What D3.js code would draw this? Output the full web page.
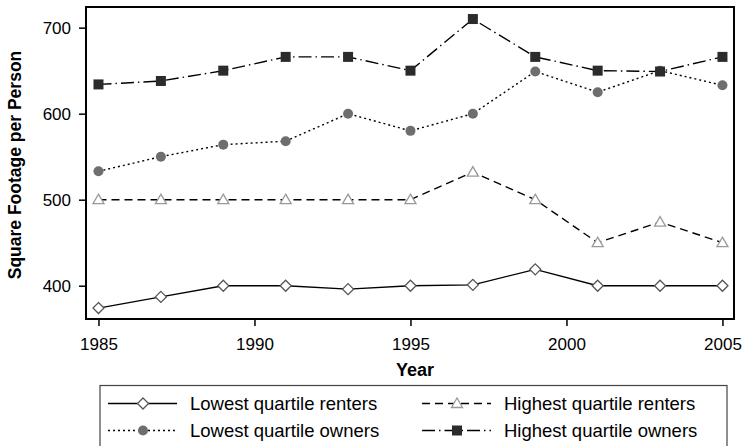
<!DOCTYPE html>
<html>
<head>
<meta charset="utf-8">
<script src="https://cdn.jsdelivr.net/npm/d3@7"></script>
<style>
  body { margin: 0; background: #fff; }
  svg { display: block; font-family: "Liberation Sans", Arial, Helvetica, sans-serif; }
</style>
</head>
<body>
<script>
// data
const years = [1985, 1987, 1989, 1991, 1993, 1995, 1997, 1999, 2001, 2003, 2005]
const lowRenters  = [374, 387, 400, 400, 396, 400, 401, 419, 400, 400, 400]
const highRenters = [500, 500, 500, 500, 500, 500, 532, 500, 450, 474, 450]
const lowOwners   = [533, 550, 564, 568, 600, 580, 600, 649, 625, 650, 633]
const highOwners  = [634, 638, 650, 666, 666, 650, 710, 666, 650, 649, 666]
const xTicks = [1985, 1990, 1995, 2000, 2005]
const yTicks = [400, 500, 600, 700]
const seriesNames = ["Lowest quartile renters", "Highest quartile renters", "Lowest quartile owners", "Highest quartile owners"]

const width = 744, height = 446
const margin = {top: 7, right: 10, bottom: 127, left: 86}

const x = d3.scaleLinear().domain([1984.6, 2005.37]).range([margin.left, width - margin.right])
const y = d3.scaleLinear().domain([361.3, 724]).range([height - margin.bottom, margin.top])

// line + marker styles per series
const styles = [
  {values: lowRenters,  dash: null,          marker: "diamond",  fill: "#fff",    stroke: "#555"},
  {values: highRenters, dash: "8,5",         marker: "triangle", fill: "#fff",    stroke: "#999"},
  {values: lowOwners,   dash: "2,3",         marker: "circle",   fill: "#6e6e6e", stroke: "none"},
  {values: highOwners,  dash: "13,4,1.5,4",  marker: "square",   fill: "#2b2b2b", stroke: "none"}
]

const svg = d3.select("body").append("svg")
  .attr("width", width)
  .attr("height", height)

const drawMarker = (g, type, cx, cy, s) => {
  if (type == "diamond") {
    g.append("path").attr("d", `M${cx},${cy-5.5}L${cx+5.5},${cy}L${cx},${cy+5.5}L${cx-5.5},${cy}Z`)
      .attr("fill", s.fill).attr("stroke", s.stroke).attr("stroke-width", 1.3)
  } else if (type == "triangle") {
    g.append("path").attr("d", `M${cx},${cy-5.5}L${cx+5.5},${cy+4}L${cx-5.5},${cy+4}Z`)
      .attr("fill", s.fill).attr("stroke", s.stroke).attr("stroke-width", 1.3)
  } else if (type == "circle") {
    g.append("circle").attr("cx", cx).attr("cy", cy).attr("r", 5).attr("fill", s.fill)
  } else {
    g.append("rect").attr("x", cx-5).attr("y", cy-5).attr("width", 10).attr("height", 10).attr("fill", s.fill)
  }
}

// axes
svg.append("g")
  .attr("transform", `translate(${margin.left},0)`)
  .call(d3.axisLeft(y).tickValues(yTicks).tickSize(7).tickPadding(8).tickSizeOuter(0))
  .attr("font-family", null).attr("font-size", 17)
  .call(g => g.select(".domain").remove())
  .call(g => g.selectAll("line").attr("stroke", "#000").attr("stroke-width", 1.5))
  .call(g => g.selectAll("text").attr("fill", "#000"))

svg.append("g")
  .attr("transform", `translate(0,${height - margin.bottom})`)
  .call(d3.axisBottom(x).tickValues(xTicks).tickFormat(d3.format("d")).tickSize(7).tickPadding(12).tickSizeOuter(0))
  .attr("font-family", null).attr("font-size", 17)
  .call(g => g.select(".domain").remove())
  .call(g => g.selectAll("line").attr("stroke", "#000").attr("stroke-width", 1.5))
  .call(g => g.selectAll("text").attr("fill", "#000"))

// series
const line = d3.line().x((d, i) => x(years[i])).y(d => y(d))
styles.forEach(s => {
  svg.append("path")
    .datum(s.values)
    .attr("d", line)
    .attr("fill", "none")
    .attr("stroke", "#000")
    .attr("stroke-width", 1.4)
    .attr("stroke-dasharray", s.dash)
})
styles.forEach(s => {
  const g = svg.append("g")
  s.values.forEach((v, i) => drawMarker(g, s.marker, x(years[i]), y(v), s))
})

// frame
svg.append("rect")
  .attr("x", margin.left).attr("y", margin.top)
  .attr("width", width - margin.left - margin.right)
  .attr("height", height - margin.top - margin.bottom)
  .attr("fill", "none").attr("stroke", "#000").attr("stroke-width", 2)

// axis titles
svg.append("text")
  .attr("transform", `translate(21,${(margin.top + height - margin.bottom)/2 + 2}) rotate(-90)`)
  .attr("text-anchor", "middle")
  .attr("font-size", 17.5).attr("font-weight", "bold")
  .text("Square Footage per Person")

svg.append("text")
  .attr("x", 415).attr("y", 376)
  .attr("text-anchor", "middle")
  .attr("font-size", 18).attr("font-weight", "bold")
  .text("Year")

// legend
const legend = svg.append("g")
legend.append("rect")
  .attr("x", 100).attr("y", 385.5).attr("width", 627).attr("height", 80)
  .attr("fill", "none").attr("stroke", "#444").attr("stroke-width", 1.2)

const legPos = [
  {x0: 108, y: 403.5}, {x0: 422, y: 403.5},
  {x0: 108, y: 430.5}, {x0: 422, y: 430.5}
]
styles.forEach((s, i) => {
  const p = legPos[i]
  legend.append("line")
    .attr("x1", p.x0).attr("x2", p.x0 + 69)
    .attr("y1", p.y).attr("y2", p.y)
    .attr("stroke", "#000").attr("stroke-width", 1.3)
    .attr("stroke-dasharray", s.dash)
  const g = legend.append("g")
  drawMarker(g, s.marker, p.x0 + 35, p.y, s)
  legend.append("text")
    .attr("x", p.x0 + 82).attr("y", p.y)
    .attr("dy", "0.35em")
    .attr("font-size", 18.5)
    .text(seriesNames[i])
})
</script>
</body>
</html>
